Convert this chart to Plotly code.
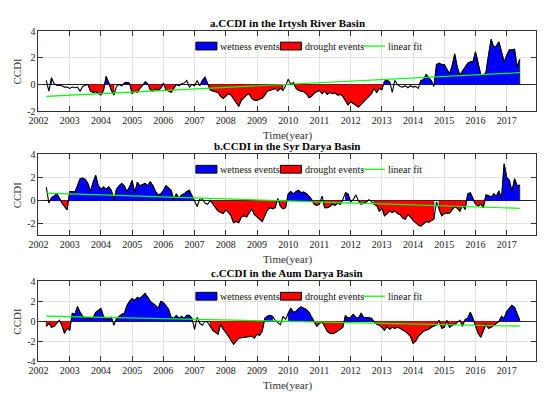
import numpy as np
import plotly.graph_objects as go

FONT = "Liberation Serif"

# Monthly CCDI, April 2002 .. June 2017 (183 months)
irtysh = [
    0.3, -0.5, 0.5, 0.05, -0.05, -0.05, -0.1, -0.2, -0.2,                      # 2002 Apr-Dec
    -0.3, -0.2, -0.25, -0.2, -0.5, -0.15, -0.05, 0.0, -0.5, -0.6, -0.55, -0.7,  # 2003
    -0.8, -0.45, 0.6, 0.15, -0.45, -0.8, -0.15, 0.0, -0.1, 0.1, 0.15, 0.1,      # 2004
    -0.7, -0.5, -0.6, -0.3, -0.1, 0.2, 0.05, -0.4, -0.5, -0.35, -0.45, -0.3,    # 2005
    0.1, -0.4, -0.5, -0.6, -0.3, 0.0, -0.1, 0.05, 0.1, 0.3, -0.2, 0.0,          # 2006
    -0.1, 0.3, -0.1, 0.3, 0.55, 0.1, -0.4, -0.5, -0.55, -0.6, -0.9, -1.05,      # 2007
    -0.9, -0.7, -0.8, -1.1, -1.3, -1.65, -1.2, -1.0, -0.8, -0.7, -1.05, -1.2,   # 2008
    -1.2, -1.1, -1.05, -0.8, -0.5, -0.45, -0.4, -0.3, -0.5, -0.3, -0.45, -0.1,  # 2009
    0.4, 0.0, 0.15, -0.3, -0.45, -0.5, -0.55, -0.7, -1.0, -0.9, -0.65, -0.55,   # 2010
    -0.45, -0.7, -0.5, -0.75, -0.6, -0.7, -0.65, -0.8, -0.75, -0.9, -1.2, -1.55,  # 2011
    -1.3, -1.45, -1.6, -1.7, -1.5, -1.3, -1.1, -0.9, -0.7, -0.3, -0.6, -0.3,    # 2012
    -0.4, 0.25, 0.3, 0.2, -0.6, 0.3, 0.0, -0.15, -0.2, -0.1, -0.25, -0.1,       # 2013
    -0.2, -0.15, -0.3, 0.3, 0.35, 0.75, 0.5, 0.3, -0.15, 1.5, 1.6, 1.5,         # 2014
    1.5, 1.2, 0.8, 1.4, 2.3, 1.3, 0.7, 1.0, 1.3, 1.6, 1.7, 1.7,                 # 2015
    2.45, 1.6, 0.75, 0.7, 0.9, 2.2, 3.4, 2.8, 2.9, 3.2, 2.4, 1.7,               # 2016
    2.2, 2.6, 2.6, 2.65, 1.3, 1.9,                                             # 2017 Jan-Jun
]
syr_darya = [
    1.2, -0.2, 0.25, 0.4, 0.6, 0.25, -0.2, -0.5, -0.8,
    0.8, 0.8, 0.75, 1.3, 1.9, 1.95, 1.85, 1.5, 0.8, 1.6, 2.2, 1.3,
    1.0, 1.2, 1.0, 1.2, 0.9, 0.1, 1.0, 1.3, 1.5, 1.3, 0.8, 1.2,
    1.75, 0.7, 1.6, 1.3, 1.4, 1.5, 1.3, 1.65, 1.3, 0.8, 0.5, 0.6,
    0.9, 1.3, 1.1, 0.9, 0.1, 0.6, 0.2, 0.5, 0.6, 0.8, 0.9, 0.4,
    -0.05, -0.5, 0.15, 0.15, -0.2, -0.3, 0.05, -0.3, -0.6, -0.9, -1.0, -1.1,
    -0.8, -1.0, -1.3, -1.9, -1.8, -1.9, -1.4, -1.3, -1.4, -1.0, -0.7, -1.2,
    -1.4, -1.6, -1.8, -1.3, -0.8, -0.6, -0.7, -0.6, 0.2, -0.5, -0.7, -0.6,
    0.6, 0.8, 0.6, 0.8, 0.9, 0.7, 0.75, 0.6, 0.4, 0.1, -0.3, -0.4,
    -0.3, 0.4, -0.6, -0.6, -0.5, -0.3, -0.4, -0.2, -0.3, 0.1, 0.7, 0.6,
    -0.1, 0.1, 0.5, 0.0, -0.3, -0.2, -0.1, 0.1, -0.05, -0.3, -0.4, -0.9,
    -0.65, -1.3, -1.1, -0.9, -1.0, -0.9, -1.1, -1.2, -1.5, -1.6, -1.2, -1.4,
    -1.7, -1.9, -2.1, -2.2, -2.0, -1.8, -1.85, -1.7, -1.6, -0.1, -0.8, -1.3,
    -1.1, -1.05, -1.07, -0.8, -0.5, -0.65, -0.9, -0.4, -0.75, 0.6, 0.7, 0.2,
    -0.3, -0.45, -0.3, -0.6, 0.5, 0.45, 0.3, 0.6, 0.4, 0.85, 0.2, 3.2,
    2.0, 1.8, 0.8, 1.9, 1.3, 1.35,
]
amu_darya = [
    -0.5, -0.2, -0.6, -0.5, -0.2, 0.1, -0.4, -1.2, -0.7,
    -0.9, 0.8, 0.7, 1.5, 0.9, 0.5, 0.3, 0.4, 0.3, 0.35, 0.9, 1.1,
    1.3, 0.5, 0.2, 0.3, 0.4, -0.4, 0.3, 0.5, 0.7, 0.8, 1.6, 2.0,
    2.3, 2.1, 2.4, 2.3, 2.6, 2.8, 2.4, 2.0, 1.8, 1.6, 1.3, 2.0,
    1.9, 1.6, 1.2, 0.4, 0.3, 0.6, 0.3, 0.5, 0.3, 0.6, 0.6, 0.3,
    -0.8, 0.4, -0.2, -0.4, 0.0, -0.1, -0.5, -0.9, -1.1, -1.3, -0.3, -0.8,
    -1.1, -1.5, -2.0, -2.3, -2.0, -1.7, -1.65, -1.6, -1.6, -1.55, -1.5, -1.7,
    -1.3, -1.4, -1.0, 0.3, 0.5, 0.6, 0.5, 0.1, -0.1, -0.35, 0.5, 0.2,
    0.8, 1.3, 0.9, 1.0, 1.3, 1.45, 1.3, 1.2, 0.9, 0.4, -0.1, -0.5,
    -0.2, -0.1, -0.5, -1.0, -1.2, -1.25, -1.15, -1.0, -0.8, -0.6, 0.6, 0.3,
    0.4, 0.7, 0.4, 0.3, 0.8, 0.4, 0.4, 0.35, 0.3, 0.0, -0.3, -0.4,
    -0.6, -0.9, -0.5, -0.8, -0.6, -0.7, -0.6, -0.7, -0.9, -1.0, -1.3, -1.5,
    -2.2, -2.0, -1.5, -1.2, -1.0, -0.9, -0.8, -0.6, -0.45, -0.35, 0.1, -0.7,
    -0.6, 0.1, -0.6, -0.4, -0.3, -0.1, 0.1, -0.5, 0.2, 0.3, 0.9, 0.3,
    -0.5, -1.2, -1.6, -0.9, -0.3, -0.7, -0.6, -0.4, -0.2, 0.0, 0.5, 0.3,
    1.0, 1.3, 1.6, 1.4, 0.8, 0.1,
]

# Months that are not part of a wetness / drought event (left unfilled)
no_event_irtysh = [("2002-04", "2002-05"), ("2002-07", "2003-08"), ("2004-07", "2004-09"),
                   ("2006-06", "2007-03"), ("2009-12", "2010-03"), ("2013-05", "2014-03"),
                   ("2014-09", "2014-09")]
no_event_syr = [("2002-04", "2002-05"), ("2007-01", "2007-07"), ("2009-09", "2009-09"),
                ("2011-02", "2011-02"), ("2011-10", "2011-10"), ("2012-01", "2012-04"),
                ("2012-08", "2012-09"), ("2014-10", "2014-10")]
no_event_amu = [("2002-09", "2002-09"), ("2004-06", "2004-06"), ("2007-01", "2007-06"),
                ("2009-08", "2009-12")]

titles = ["a.CCDI in the Irtysh River Basin",
          "b.CCDI in the Syr Darya Basin",
          "c.CCDI in the Aum Darya Basin"]
legend_labels = ["wetness events", "drought events", "linear fit"]
year_ticks = list(range(2002, 2018))
y_ranges = [[-2, 4], [-3, 4], [-4, 4]]
y_ticks = [[-2, 0, 2, 4], [-2, 0, 2, 4], [-4, -2, 0, 2, 4]]

START_YEAR, START_MONTH = 2002, 4


def month_index(s):
    yy, mm = s.split("-")
    return (int(yy) - START_YEAR) * 12 + (int(mm) - START_MONTH)


def cross(t0, y0, t1, y1):
    return t0 + (t1 - t0) * (0 - y0) / (y1 - y0)


def event_polys(t, y, white, s):
    n = len(y)
    mask = [(not white[k]) and s * y[k] > 0 for k in range(n)]
    xs, ys = [], []
    k = 0
    while k < n:
        if not mask[k]:
            k += 1
            continue
        j = k
        while j + 1 < n and mask[j + 1]:
            j += 1
        px, py = [], []
        if k > 0 and s * y[k - 1] <= 0:
            px.append(cross(t[k - 1], y[k - 1], t[k], y[k]))
        else:
            px.append(t[k])
        py.append(0.0)
        for m in range(k, j + 1):
            px.append(t[m]); py.append(y[m])
        if j + 1 < n and s * y[j + 1] <= 0:
            px.append(cross(t[j], y[j], t[j + 1], y[j + 1]))
        else:
            px.append(t[j])
        py.append(0.0)
        xs += px + [None]
        ys += py + [None]
        k = j + 1
    return xs, ys


W, H = 558, 397
x_left, x_right = 29, 536
panel_px = [(26, 108), (152.7, 236), (283.3, 365.3)]


def px_x(v):
    return v / W


def px_y(v):
    return 1 - v / H


fig = go.Figure()
series = [irtysh, syr_darya, amu_darya]
no_events = [no_event_irtysh, no_event_syr, no_event_amu]
annotations, shapes = [], []

for p in range(3):
    y = np.array(series[p], dtype=float)
    n = len(y)
    t = START_YEAR + (START_MONTH - 1 + np.arange(n)) / 12.0
    white = [False] * n
    for a, b in no_events[p]:
        for k in range(month_index(a), month_index(b) + 1):
            if 0 <= k < n:
                white[k] = True
    sfx = "" if p == 0 else str(p + 1)
    xa, ya = "x" + sfx, "y" + sfx

    wx, wy = event_polys(list(t), list(y), white, +1)
    dx, dy = event_polys(list(t), list(y), white, -1)
    fig.add_trace(go.Scatter(x=wx, y=wy, fill="toself", fillcolor="#0000ff", mode="lines",
                             line=dict(color="black", width=0.6), name=legend_labels[0],
                             xaxis=xa, yaxis=ya, showlegend=False, hoverinfo="skip"))
    fig.add_trace(go.Scatter(x=dx, y=dy, fill="toself", fillcolor="#ff0000", mode="lines",
                             line=dict(color="black", width=0.6), name=legend_labels[1],
                             xaxis=xa, yaxis=ya, showlegend=False, hoverinfo="skip"))
    fig.add_trace(go.Scatter(x=t, y=y, mode="lines", line=dict(color="black", width=1.1),
                             showlegend=False, xaxis=xa, yaxis=ya))
    coef = np.polyfit(t, y, 1)
    fit = np.polyval(coef, t)
    fig.add_trace(go.Scatter(x=t, y=fit, mode="lines", line=dict(color="#00ff00", width=1.2),
                             name=legend_labels[2], xaxis=xa, yaxis=ya, showlegend=False))

    top, bot = panel_px[p]
    dom_y = [px_y(bot), px_y(top)]
    axis_common = dict(showline=True, linecolor="#333333", linewidth=1, mirror="ticks",
                       ticks="inside", ticklen=5, tickcolor="#333333",
                       showgrid=True, gridcolor="#e2e2e2", gridwidth=1,
                       tickfont=dict(family=FONT, size=10, color="#222222"))
    fig.layout["xaxis" + sfx] = dict(domain=[px_x(x_left), px_x(x_right)], range=[2002, 2017.95],
                                     tickvals=year_ticks, ticktext=[str(v) for v in year_ticks],
                                     anchor=ya, zeroline=False, **axis_common)
    fig.layout["yaxis" + sfx] = dict(domain=dom_y, range=y_ranges[p], tickvals=y_ticks[p],
                                     ticktext=[str(v) for v in y_ticks[p]], anchor=xa,
                                     zeroline=True, zerolinecolor="#222222", zerolinewidth=1,
                                     **axis_common)

    # MATLAB-style legend box drawn inside the axes
    ly = top + 15.2
    shapes.append(dict(type="rect", xref="paper", yref="paper", layer="between",
                       x0=px_x(185), x1=px_x(422), y0=px_y(top + 5.5), y1=px_y(top + 23),
                       fillcolor="white", line=dict(width=0)))
    for (bx0, bx1), col in [((189.3, 210.7), "#0000ff"), ((275.3, 296.7), "#ff0000")]:
        shapes.append(dict(type="rect", xref="paper", yref="paper", layer="above",
                           x0=px_x(bx0), x1=px_x(bx1), y0=px_y(ly + 4), y1=px_y(ly - 4),
                           fillcolor=col, line=dict(color="black", width=1)))
    shapes.append(dict(type="line", xref="paper", yref="paper", layer="above",
                       x0=px_x(359.3), x1=px_x(381.7), y0=px_y(ly), y1=px_y(ly),
                       line=dict(color="#00ff00", width=1.2)))
    for tx, lab in zip([212.0, 298.0, 383.3], legend_labels):
        annotations.append(dict(text=lab, x=px_x(tx), y=px_y(ly), xref="paper", yref="paper",
                                xanchor="left", yanchor="middle", showarrow=False,
                                font=dict(family=FONT, size=10, color="#111111")))

    xc = (x_left + x_right) / 2 / W
    annotations.append(dict(text="<b>" + titles[p] + "</b>", x=xc, y=dom_y[1], xref="paper",
                            yref="paper", xanchor="center", yanchor="bottom", yshift=0,
                            showarrow=False, font=dict(family=FONT, size=11, color="black")))
    annotations.append(dict(text="Time(year)", x=xc, y=dom_y[0], xref="paper", yref="paper",
                            xanchor="center", yanchor="top", yshift=-16, showarrow=False,
                            font=dict(family=FONT, size=11, color="#333333")))
    annotations.append(dict(text="CCDI", x=px_x(7.5), y=(dom_y[0] + dom_y[1]) / 2, xref="paper",
                            yref="paper", xanchor="center", yanchor="middle", textangle=-90,
                            showarrow=False, font=dict(family=FONT, size=11, color="#333333")))

fig.update_layout(width=W, height=H, margin=dict(l=0, r=0, t=0, b=0),
                  paper_bgcolor="white", plot_bgcolor="white", showlegend=False,
                  annotations=annotations, shapes=shapes, font=dict(family=FONT))
fig.write_html("out.html", config={"displayModeBar": False},
               post_script="document.body.style.margin='0px';")
